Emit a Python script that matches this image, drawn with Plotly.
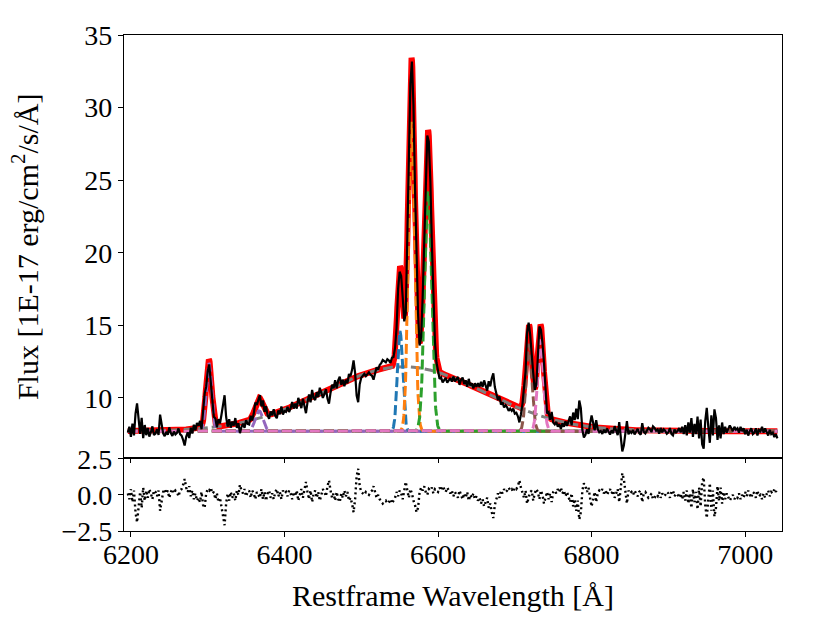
import numpy as np
import plotly.graph_objects as go

# ---------------- data ----------------
wave_start = 6196.0   # first pixel wavelength [A]
wave_step = 2.0       # pixel spacing [A]

# residuals as plotted in lower panel (model - data), one per pixel
resid = [
    0.1, -0.3, 0.4, -0.5, 0.3, -1.2, -1.9, -0.6, 0.2, -0.9,
    0.5, -0.4, 0.3, -0.2, 0.4, 0.1, -0.3, 0.3, 0.2, -0.1,
    0.3, -1.1, -0.5, 0.2, 0.4, 0.1, 0.3, -0.2, 0.2, 0.4,
    0.1, 0.3, 0.2, -0.1, 0.3, 0.4, 0.7, 1.1, 0.5, 0.2,
    0.6, -0.1, 0.3, -0.3, 0.1, -0.4, -0.2, -0.5, 0.2, -0.7,
    -0.9, 0.1, 0.4, 0.3, 0.5, 0.1, 0.2, -0.3, 0.1, -0.5,
    -0.2, -0.8, -1.4, -2.1, -0.6, 0.1, -0.4, 0.2, -0.2, 0.1,
    -0.4, 0.3, 0.0, 0.7, 0.3, 0.1, 0.4, -0.1, 0.2, 0.3,
    -0.2, 0.3, 0.1, -0.3, 0.2, 0.0, -0.2, 0.4, -0.3, 0.2,
    -0.4, 0.1, 0.3, -0.2, 0.1, -0.3, 0.2, 0.4, -0.1, 0.2,
    -0.3, 0.3, 0.1, 0.2, -0.1, 0.3, 0.1, -0.3, 0.2, -0.1,
    0.3, -0.4, 0.0, 0.4, -0.2, 0.5, 0.9, 0.2, -0.3, 0.3,
    -0.5, 0.1, 0.3, -0.2, 0.2, -0.4, 0.1, 0.4, 0.2, -0.1,
    0.6, 1.0, 0.3, -0.2, 0.1, -0.4, 0.2, -0.3, -0.5, 0.1,
    -0.2, 0.3, -0.1, 0.2, -0.4, -0.2, -0.6, -1.2, -0.3, 1.3,
    1.8, 0.6, 0.2, 0.1, 0.0, 0.2, 0.1, 0.0, 0.2, 0.3,
    0.6, 0.1, -0.2, 0.0, -0.3, -0.4, -0.6, -0.5, -0.4, -0.6,
    -0.5, -0.3, -0.6, -0.4, -0.2, 0.2, -0.1, 0.3, 0.1, -0.3,
    0.2, 0.9, 0.3, -0.2, 0.4, 0.1, -0.4, -0.7, -1.2, -0.9,
    0.2, 0.5, 0.3, 0.6, 0.2, 0.0, 0.4, 0.3, 0.5, 0.1,
    0.4, 0.3, 0.2, 0.5, 0.3, 0.6, 0.4, 0.2, 0.5, 0.3,
    0.1, 0.3, -0.1, 0.2, 0.0, -0.2, 0.3, -0.1, -0.3, 0.1,
    -0.2, 0.2, -0.4, 0.0, -0.2, 0.1, -0.3, -0.1, -0.4, -0.2,
    -0.6, -0.3, -0.8, -0.5, -0.2, -0.9, -0.6, -1.2, -1.6, -0.7,
    -0.3, 0.1, -0.2, 0.3, 0.1, 0.4, 0.2, 0.3, 0.5, 0.3,
    0.4, 0.2, 0.5, 0.4, 0.6, 1.0, 0.5, 0.1, -0.2, 0.3,
    -0.6, -0.2, 0.2, 0.3, -0.4, 0.1, 0.4, 0.2, -0.3, 0.3,
    0.0, -0.6, -0.2, 0.2, -0.3, 0.1, -0.5, 0.2, 0.3, 0.1,
    0.4, 0.2, 0.5, 0.1, 0.3, -0.1, 0.2, -0.2, -0.5, 0.1,
    -0.8, -0.3, -1.1, -0.4, -1.7, -1.2, 0.3, 0.8, 0.6, 0.2,
    0.5, -0.2, -0.8, -0.3, 0.2, -0.5, 0.1, 0.3, 0.2, 0.4,
    0.1, 0.3, 0.0, 0.2, 0.4, 0.1, 0.3, -0.2, 0.2, 0.4,
    -0.5, 0.6, 1.5, 1.1, 0.2, -0.6, 0.3, 0.1, 0.2, 0.0,
    0.3, 0.1, -0.1, 0.2, 0.3, -0.5, 0.1, 0.2, 0.0, -0.2,
    -0.1, 0.1, -0.3, -0.2, 0.0, -0.1, 0.2, -0.2, 0.1, -0.1,
    0.0, 0.2, 0.1, -0.2, 0.2, 0.3, -0.1, 0.1, 0.0, -0.2,
    0.1, -0.3, 0.2, -0.4, 0.3, -0.6, 0.1, -0.9, 0.4, -0.5,
    0.2, -1.0, 0.5, -0.8, 0.9, 1.2, -0.7, -1.6, -0.3, 0.8,
    -1.1, 0.3, -1.5, -0.9, 0.6, -0.4, 0.5, -0.6, 0.2, -0.3,
    0.1, -0.2, -0.4, -0.2, 0.0, -0.3, -0.1, -0.2, 0.1, -0.3,
    0.0, -0.2, 0.2, -0.1, 0.3, 0.0, -0.2, 0.2, 0.1, -0.2,
    0.3, -0.1, 0.0, -0.3, 0.1, -0.2, 0.0, 0.3, -0.1, 0.2,
    0.1, 0.4, 0.2, 0.5,
]

continuum = 7.7

broad_center = 6555.0
broad_amp = 4.45
broad_sigma = 105.0

line_names = ["[OI]6300", "[OI]6364", "[NII]6548", "Halpha", "[NII]6583", "[SII]6716", "[SII]6731"]
line_centers = [6301.5, 6367.0, 6550.5, 6565.5, 6587.0, 6718.5, 6733.5]
line_amps = [4.7, 1.4, 6.9, 21.3, 16.5, 6.0, 6.3]
line_sigmas = [3.6, 5.0, 3.4, 4.1, 4.6, 3.8, 3.8]
line_colors = ["#9467bd", "#9467bd", "#1f77b4", "#ff7f0e", "#2ca02c", "#8c564b", "#e377c2"]
broad_color = "#7f7f7f"

xticks = [6200, 6400, 6600, 6800, 7000]
yticks_main = [10, 15, 20, 25, 30, 35]
yticks_res = [-2.5, 0.0, 2.5]
yticks_res_text = ["\u22122.5", "0.0", "2.5"]

# ---------------- model ----------------
def gauss(x, a, c, s):
    return a * np.exp(-0.5 * ((x - c) / s) ** 2)

def total_model(x):
    y = continuum + gauss(x, broad_amp, broad_center, broad_sigma)
    for a, c, s in zip(line_amps, line_centers, line_sigmas):
        y = y + gauss(x, a, c, s)
    return y

resid = np.array(resid)
wave = wave_start + wave_step * np.arange(len(resid))
flux = total_model(wave) - resid
fine = np.arange(wave[0], wave[-1] + 0.01, 0.5)

FONT = "Liberation Serif"
fig = go.Figure()

fig.add_trace(go.Scatter(x=fine, y=total_model(fine), mode="lines",
                         line=dict(color="red", width=6), xaxis="x", yaxis="y"))

fig.add_trace(go.Scatter(x=fine, y=continuum + gauss(fine, broad_amp, broad_center, broad_sigma),
                         mode="lines", line=dict(color=broad_color, width=3, dash="10px,4px"),
                         xaxis="x", yaxis="y"))
for a, c, s, col in zip(line_amps, line_centers, line_sigmas, line_colors):
    fig.add_trace(go.Scatter(x=fine, y=continuum + gauss(fine, a, c, s), mode="lines",
                             line=dict(color=col, width=3, dash="10px,4px"),
                             xaxis="x", yaxis="y"))

fig.add_trace(go.Scatter(x=wave, y=flux, mode="lines",
                         line=dict(color="black", width=2.2), xaxis="x", yaxis="y"))

fig.add_trace(go.Scatter(x=wave, y=resid, mode="lines",
                         line=dict(color="black", width=2.4, dash="2px,3px"),
                         xaxis="x2", yaxis="y2"))

axis_common = dict(showline=True, linecolor="black", linewidth=1.3, mirror=True,
                   ticks="outside", ticklen=5, tickwidth=1.2, tickcolor="black",
                   showgrid=False, zeroline=False,
                   tickfont=dict(family=FONT, size=28, color="black"))

fig.update_layout(
    width=830, height=627,
    margin=dict(l=116, r=56, t=15, b=104),
    paper_bgcolor="white", plot_bgcolor="white",
    showlegend=False,
    xaxis=dict(domain=[0, 1], anchor="y", range=[6191, 7048], tickvals=xticks,
               showticklabels=False, **axis_common),
    xaxis2=dict(domain=[0, 1], anchor="y2", range=[6191, 7048], tickvals=xticks,
                matches="x", ticklabelstandoff=-7, **axis_common),
    yaxis=dict(domain=[0.1485, 1], anchor="x", range=[5.9, 35], tickvals=yticks_main,
               **axis_common),
    yaxis2=dict(domain=[0, 0.1457], anchor="x2", range=[-2.5, 2.5], tickvals=yticks_res,
                ticktext=yticks_res_text, **axis_common),
    annotations=[
        dict(text="Flux [1E-17 erg/cm<sup>2</sup>/s/\u00c5]", xref="paper", yref="paper",
             x=-0.150, y=0.573, xanchor="center", yanchor="middle", textangle=-90,
             showarrow=False, font=dict(family=FONT, size=30, color="black")),
        dict(text="Restframe Wavelength [\u00c5]", xref="paper", yref="paper",
             x=0.5, y=-0.130, xanchor="center", yanchor="middle",
             showarrow=False, font=dict(family=FONT, size=30, color="black")),
    ],
)

fig.write_html("out.html")
